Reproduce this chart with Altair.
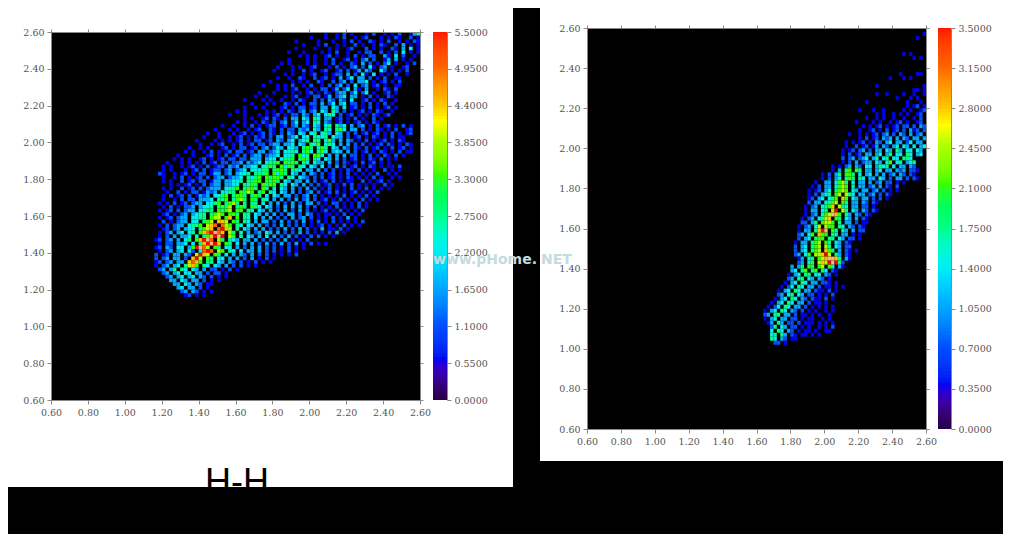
import altair as alt

TICKS = [0.6, 0.8, 1.0, 1.2, 1.4, 1.6, 1.8, 2.0, 2.2, 2.4, 2.6]
LEFT_MAX = 5.5
RIGHT_MAX = 3.5
LEFT_X0 = 1.16
RIGHT_X0 = 1.64
CELL = 0.02
STOPS = [0, 0.1, 0.2, 0.3, 0.4, 0.5, 0.6, 0.7, 0.75, 0.8, 0.9, 1.0, 1.2]
COLOURS = ["#2a004a", "#0000f0", "#0050ff", "#00a8ff", "#00f0f0", "#00ff80", "#30ff00",
           "#b0ff00", "#ffff00", "#ffc000", "#ff6000", "#ff0000", "#ffffff"]

LEFT_ROWS = [
(46,"1..1.2.1...1.2..1.1.2..13542"),(42,"1...1..1.2..1.12...1.1.21..2.1.1.33"),(38,"1.....1...1..1.2.1..21.1.2..1.1.21.3"),
(40,"1...1.2..1.1..2.1..1.21..2.3.1.1"),(38,"1....1...1.1..12...2.1.1..21.3.4.1"),(36,"1...1....1.1.2..1..1.22..2.1.2.4.1.1"),
(37,"..1.1.1..12.1..1.2.1.22..31.4.2..1"),(36,"1....1.1..1.2..12.1.23.2..13.3.1.1"),(34,"1.1....1.1..1.2.1..21.3.2.1.24.1..1.2"),
(33,"1...1.1..12...1.2.1.23.2.41.23.1..12"),(32,"1....1..2.1..12..12.2.13.32..42.1.1.2"),(34,".1.1..1.12..1.122.3.2.41.4.1.1.2..1"),
(33,"1..1..21..2.12.1.3.24.33.2.1.2..11"),(31,"1.....1.1.1..21..2.23.2.334.1.12.1.2"),(29,"1...1.1.2..1.2..1.2.23.2.4.23.12.1..11"),
(31,"..1.1.12..1.1.22.13.24.31.3..1.21.2"),(28,"1...1....1.1.12.1.21.233.24.24.1..12.1"),(27,"1..1....1.12..1.22.13.234.33.1.2.1..21"),
(24,"1....1.1..1..1.21..2.2.32.32.4..12.1.21..1"),(26,"1...1.1..21.2.1.22.3.24.34.22.1.2.1.2.1"),(24,"1..1.1....12.1.22.12.33.43.4.12.1.2.1.12.1"),
(22,"1.1.....1.1.1.21.23.23.43.53.2.1.12.1.21..1"),(20,"1...1...1.1.12.1.22.32.34.454.2.12.1.1.21.12"),(24,"1.1..12.21.2.33.43.54.33.12.1.2.1..2.1"),
(22,"1.1..1.21.2.23.24.34.54.32.12.1.12.1.21"),(18,"1..1..1.2.1.122.12.23.32.43.45.534.3.23.1.2.12.1.2.1"),(16,"1...1.1..1.12..21.2.22.323.43.54.564.33.2.1.21.1.2..12"),
(14,"1..1...1.12.1.12.21.2.32.43.45.453.43.2.2.12.12.1.2.1.12"),(13,"1...1..1.12.1.212.2.33.234.44.5445.433.2.12.1.21.1.2.11"),(11,"1....1.1.1.12.1.22.12.32.34.345.55.463.3.32.1.2.1.12.1.21"),
(12,"1..1.12..1.2.12.22.233.334.43.546.454.3.3.2.2.1.12.21.1.21"),(9,"1..1.1...12.1.22.12.23.243.443.565.465.43.32.21.2.12.1.2.12.1"),(8,"1.1..1.2.1.12.22.12.33.234.4454.564.564.343.3.2.12.1.21.1.2.11"),
(6,"1...1...12.1.2.12.2.233.2334.445.645.664.3.3.3.22.1.2.1.21.2.1"),(5,"1.1.1..12.1.12.22.22.333.344.4556.565.54.43.3.2.12.1.21.2.1.1"),(3,"1...1.1.1.2.12.22.223.3234.4556.6565.54.433.3.2.21.1.2.12.1.1"),
(2,"1.1..1.12.1.2.122.323.3344.4565.6465.54.43.4.2.3.2.12.1.21.1.1"),(2,"1.1...1.12.2.122.23.234.44455.5665.554.33.3.2.2.1.21.2.1.1"),(1,"21..1.12.1.22.133.23.3445.5556.6465.43.3.32.2.12.1.2.1.1"),
(2,"1..1.2.1.12.2.233.2334.5456.65665.54.432.2.2.12.1.21.1"),(2,"1.1..2.12.22.133.33445.5566.6565.43.33.3.2.12.2.1.1"),(4,"1.1.12.1.2.233.3344.5465.6566.54.43.3.2.2.12.1.2.1"),
(2,"1.1..2.12.2.2333.4456.5665.65.4.43.3.2.3.2.1.2.1"),(3,"1..2.1.22.1323.4455.6576.56.54.43.3.2.23.2.12.1"),(2,"1.2.12.2.1323.4456.5665.565.4.43.33.2.23.2.1.1"),
(2,"1..1.2.22.3334.556.5675.65.54.3.3.2.3.23.2.12.1"),(1,"1.1.2.12.233.4456.5675.5.55.4.3.3.2.3.2.33.2.1.2"),(2,"1.2.1.223.3445.5657.565.654.43.2.3.3.3.2.2.1.1"),
(1,"1.12.2.233.4455.6567.66.54.43.3.2.3.2.3.2.1.1"),(2,"12.1.23.3445.5676.665.55.43.3.3.2.33.2.32.1.1"),(1,"1.12.233.4455.677.68.6.54.4.3.3.2.2.3.23.2.1.1"),
(2,"2.1.233.44.567.887.65.54.3.33.2.3.2.2.3.1.2.1"),(1,"1.2.233.4556.789.976.54.43.3.2.2.3.2.2.2.1.1"),(2,"12.23.344.5678.9a87.5.43.3.3.2.2.3.2.3.2.1.3.1"),
(1,"1.23.34.45.689aW98.75.4.3.23.43.3.2.2.3.2.1.1.2"),(1,"1.2.3.334.4.568aWa.76.5.43.3.4.3.2.3.2.1.2.2.1.1"),(0,"12.23.3.45.68aW9.75.543.33.3.2.2.2.3.1.1.2"),
(1,"1.22.334.4.58aWa8.65.4.3.3.2.3.2.3.2.3.1.2.1.1"),(0,"12.32.44.36aW97.65.44.3.2.3.3.2.2.1.2.1.1"),(1,"1.23.34.42.49a9.76.54.4.33.3.2.2.1.2.1"),
(0,"2.12.33.32.7a87.65.4.3.32.3.2.2.1.1.1.2"),(0,"2.23.33.2.8a7.65.44.3.3.2.3.1.2.1"),(0,"12.23.33.8986.55.43.32.2.1.2.1.1"),
(0,"1.23.34.5786.54.43.3.2.2.1.1"),(1,"23.35.54.43.3.22.1.2.1"),(2,"23.34.44.33.2.22.1"),
(3,"23.34.34.32.2.1.1"),(4,"33.43.33.2.1.1"),(5,"33.43.32.11"),
(6,"34.33.2.1"),(7,"23.32.1.1"),(8,"12.1.1"),
]
LEFT_FRINGE = [
(36,64,"1.2"),(37,59,"1..2.1.1"),(38,58,"1.2..1.1"),(39,55,"1.1.2.1..1.1"),(40,53,"1..2.1.12.1"),(41,53,"2.1.1.1..2.1"),
(42,51,"1.2.1.2.1.1.1"),(43,49,"2.1.12.1.1.2"),(44,49,"1.2.1.1.2.1"),(45,48,"1.2.1.1.2.1.1"),(46,49,"2.1.1.2.1"),
(47,47,"1.2.1.1.2.1"),(48,46,"2.1.2.1.1.2"),(49,47,"1.1.2.1.1"),(50,48,"2.1.3.1"),(51,46,"1.2.1.1.1.2"),(52,45,"2.1.1.2.1.1"),
(53,48,"1.2.1"),(54,49,"3.1"),
]

RIGHT_ROWS = [
(47,""),(47,"1"),(45,"1"),(47,""),(47,""),(47,""),(41,"1.1"),(44,"1.1"),(47,""),(47,""),(47,""),
(40,"1....11"),(37,"1...1.1"),(47,""),(33,"1.............1"),(44,"11.1"),(33,"1..1....1..1..1"),(39,"1...1.1"),
(30,"1...........1...1.1"),(42,"1.12.1"),(28,"1...1..1.....1.1..12.1"),(33,"1.1..1.1.1..12.2.1"),(30,"1..1.1..1..1..1.2.12"),
(27,"1....1.1..1.12.1..12.2.21"),(29,"1.1.12.1.12.22.2.32.2"),(28,"1..12.1.2.12.2.312.2.23"),(25,"1..1.1.12.23.2.32.3.23.32"),
(28,"1.2.12.323.3.32.33.33"),(24,"1.1.12.1.32.34.33.24.33"),(24,"1..2.12.13.32.34.43.4.34"),(23,"1.12.23.2.33.43.53.44.43"),
(23,"1.2.12.33.34.35.44.54.34"),(23,"2.23.234.35.45.44.554"),(23,"1.2.3.233.43.46.45.345"),(20,"1.1.23.32.44.3545.4.33.32"),
(20,"1.3.56.65.33.34.33.323.221"),(17,"1.2.35.665.4.34.3.3.23.32.21"),(17,"1.2.34.565.54.33.43.2.33.2.21"),(15,"1..33.4675.4.33.3.23.22.1.1"),
(14,"1.2.33.4676.5.33.23.3.21.2"),(13,"1.12.34.5676.43.33.23.2.1.1"),(13,"1.2.345.67.754.33.23.2.21"),(13,"12.34.456.86.43.33.2.2.1"),
(13,"2.33.4567.65.33.32.21"),(12,"1.23.4568.754.33.22.1"),(12,"1.33.45.7a.75.43.32.21"),(12,"1.23.467W86.53.32.21"),
(11,"1.23.4578.65.43.3.21"),(11,"22.35.6776.5.33.2.11"),(10,"1.23.47.766.54.32.21"),(10,"1.33.58aW.65.53.3.22"),
(10,"23.46.866.54.33.1.1"),(10,"2.34.566.55.43.22.1"),(9,"1.33.567.65.43.21"),(9,"2.34.567.75.43.22"),
(9,"2.34.567.865.3.21.1"),(9,"23.46.778a7.53.21"),(10,"13.45.678WW85.31"),(10,"23.46.787aWa52"),
(8,"3.35.65.67.64.31"),(8,"34.56.56.54.21"),(7,"1.34.55.44.32.1"),(7,"23.55.43.32.1"),
(6,"1.34.54.33.22"),(5,"1.24.54.33.2.1"),(4,"1.34.54.33.21"),(4,"23.45.43.22.1"),
(3,"1.34.54.32.21"),(2,"1.34.54.33.2.1"),(1,"1.24.54.33.2.1"),(0,"1.34.54.32.2.1"),
(0,"23.55.33.2.11"),(0,"1.34.33.22.1.1"),(1,"13.53.22.2.11"),(2,"25.43.22.1.1"),
(2,"4.54.32.1.1"),(2,"45.53.21.1"),(2,"54.32.11"),(3,"22.1"),
]
RIGHT_FRINGE = [
(63,19,"1.1"),(64,19,"1.1.1"),(65,17,"1.2.1"),(66,16,"1.1.2"),(67,16,"1.2.1"),(68,16,"1.1"),(69,16,"1.1.1"),(70,15,"1..1.1"),
(71,14,"1.1..1"),(72,14,"1..1.1"),(73,14,"1.1.1.1"),(74,13,"1..1.1.2"),(75,13,"1.1..11"),(76,12,"1.1.1"),
]

ONE = alt.Data(values=[{"a": 1}])


def cells(rows, fringe, x_start, vmax):
    out = []
    entries = [(j, off, text) for j, (off, text) in enumerate(rows)] + list(fringe)
    for j, off, text in entries:
        for k, ch in enumerate(text):
            if ch == ".":
                continue
            level = {"a": 10, "W": 12}.get(ch) or int(ch)
            x0 = x_start + (off + k) * CELL
            if x0 >= 2.6 - 1e-9:
                continue
            y1 = 2.6 - j * CELL
            out.append({"x0": x0, "x1": x0 + CELL, "y0": max(y1 - CELL, 0.6), "y1": y1, "v": level / 10 * vmax})
    return out


def colour_scale(vmax):
    return alt.Scale(domain=[s * vmax for s in STOPS], range=COLOURS, clamp=True)


def box(colour, x0, x1, y0, y1):
    return alt.Chart(ONE).mark_rect(color=colour).encode(
        x=alt.value(x0), x2=alt.value(x1), y=alt.value(y0), y2=alt.value(y1))


def label(text, colour, x, y, size, font, align="center", weight="normal"):
    return alt.Chart(ONE).mark_text(text=text, color=colour, fontSize=size, font=font, align=align,
                                    fontWeight=weight, baseline="alphabetic").encode(x=alt.value(x), y=alt.value(y))


def panel(rows, fringe, x_start, vmax, w, h, dy, bar_x, bar_w, under=(), extra=()):
    sx = alt.Scale(domain=[0.6, 2.6], nice=False, zero=False)
    sy = alt.Scale(domain=[0.6, 2.6], nice=False, zero=False, range=[h, dy])
    base_axis = dict(values=TICKS, title=None, format=".2f", grid=False, tickSize=4, domain=True, zindex=1,
                     minExtent=0)
    data = alt.Data(values=cells(rows, fringe, x_start, vmax))
    main = alt.Chart(data).mark_rect().encode(
        x=alt.X("x0:Q", scale=sx, axis=alt.Axis(orient="bottom", **base_axis)),
        x2="x1:Q",
        y=alt.Y("y0:Q", scale=sy, axis=alt.Axis(orient="left", **base_axis)),
        y2="y1:Q",
        color=alt.Color("v:Q", scale=colour_scale(vmax), legend=None),
    )
    ghost_axis = dict(values=TICKS, title=None, labels=False, grid=False, tickSize=3, domain=True, zindex=1,
                      minExtent=0, labelPadding=0)
    ghost = alt.Chart(data).mark_rect(opacity=0).encode(
        x=alt.X("x0:Q", scale=sx, axis=alt.Axis(orient="top", offset=-dy, **ghost_axis)),
        y=alt.Y("y0:Q", scale=sy, axis=alt.Axis(orient="right", **ghost_axis)),
    )
    n = 110
    levels = [{"lo": i / n * vmax, "hi": min(i + 1.8, n) / n * vmax, "lv": (i + 0.5) / n * vmax} for i in range(n)]
    ticks = [i / 10 * vmax for i in range(11)]
    ramp = alt.Chart(alt.Data(values=levels)).mark_rect().encode(
        x=alt.value(bar_x), x2=alt.value(bar_x + bar_w),
        y=alt.Y("lo:Q", scale=alt.Scale(domain=[0, vmax], nice=False, range=[h, dy]),
                axis=alt.Axis(orient="right", offset=bar_x + bar_w - w, values=ticks, format=".4f", title=None,
                              grid=False, tickSize=4, domain=True, zindex=1, minExtent=0)),
        y2="hi:Q",
        color=alt.Color("lv:Q", scale=colour_scale(vmax), legend=None),
        order=alt.Order("lo:Q", sort="descending"),
    )
    layers = list(under) + [box("#000000", 0, w, dy, h), main, ghost, ramp] + list(extra)
    return (
        alt.layer(*layers)
        .resolve_scale(y="independent")
        .resolve_axis(x="independent", y="independent")
        .properties(width=w, height=h)
    )


SERIF = "DejaVu Serif"
WM = "#c4dcdc"
panel_a = panel(LEFT_ROWS, LEFT_FRINGE, LEFT_X0, LEFT_MAX, 369, 371, 3, 382, 14,
                under=[box("#000000", -43, 489, 458, 505), box("#000000", 462, 489, -21, 458),
                       box("#ffffff", -43, 462, -21, 458)],
                extra=[label("H-H", "#000000", 186, 465, 36, "Liberation Sans"),
                       label("www.pHome.", WM, 486, 235, 14, "DejaVu Sans", align="right", weight="bold")])
panel_b = panel(RIGHT_ROWS, RIGHT_FRINGE, RIGHT_X0, RIGHT_MAX, 339, 400, -1, 351, 13,
                under=[box("#ffffff", -47, 416, -21, 432)],
                extra=[label("NET", WM, -46, 235, 14, "DejaVu Sans", align="left", weight="bold")])

chart = (
    alt.hconcat(panel_a, panel_b, spacing=0)
    .resolve_scale(color="independent")
    .properties(padding=0, background="#000000")
    .configure_view(stroke=None)
    .configure_axis(labelFont=SERIF, labelFontSize=9.5, labelColor="#555555", tickColor="#888888",
                    domainColor="#888888", labelOverlap=False, labelFlush=False, labelBound=False,
                    labelPadding=3, tickWidth=1, domainWidth=1)
)

chart.save("out.html", embed_options={"renderer": "svg", "actions": False})
